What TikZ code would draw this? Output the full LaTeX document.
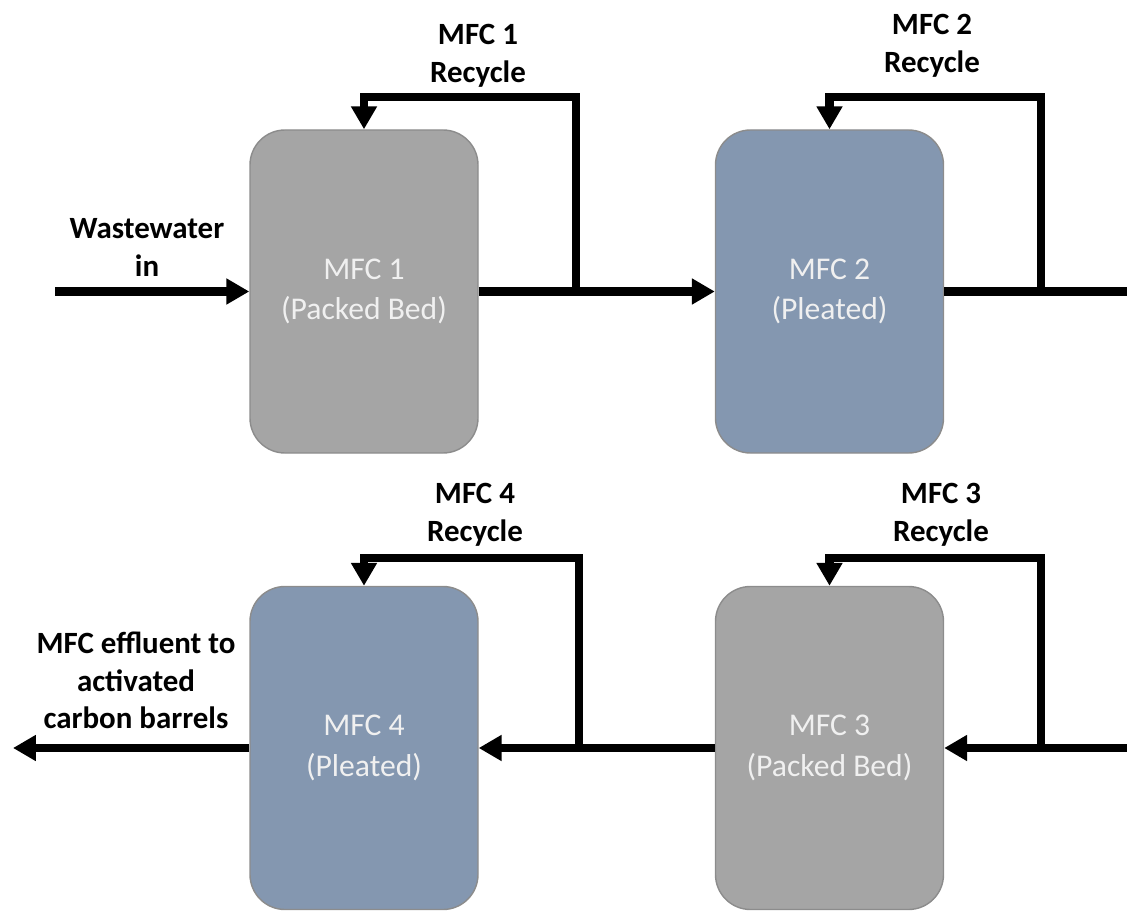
\documentclass[tikz,border=0pt]{standalone}
\usepackage{fontspec}
\setmainfont{Carlito}
\usetikzlibrary{positioning}
\usetikzlibrary{arrows.meta}

\definecolor{bedgray}{HTML}{A5A5A5}
\definecolor{pleatblue}{HTML}{8497B0}
\definecolor{edgegray}{HTML}{8C8C8C}

\tikzset{
    mfc/.style={draw=edgegray, line width=0.8pt, rounded corners=0.7cm,
        minimum width=4.56cm, minimum height=6.46cm, inner sep=0pt,
        align=center, text=white!94!black,
        font=\fontsize{18}{23}\selectfont},
    packed/.style={mfc, fill=bedgray},
    pleated/.style={mfc, fill=pleatblue},
    pipe/.style={line width=4.6pt},
    flow/.style={pipe, -{Triangle[length=13pt,width=14pt]}},
    lbl/.style={align=center, font=\fontsize{17.6}{21.5}\selectfont\bfseries},
}

\begin{document}
\begin{tikzpicture}
    \useasboundingbox (0,0) rectangle (22.54,18.2);

    \path (7.28, 12.37) node [packed] (m1) {MFC 1\\(Packed Bed)};
    \path (16.59, 12.37) node [pleated] (m2) {MFC 2\\(Pleated)};
    \path (16.59, 3.24) node [packed] (m3) {MFC 3\\(Packed Bed)};
    \path (7.28, 3.24) node [pleated] (m4) {MFC 4\\(Pleated)};

    \path (1.1, 12.37) coordinate (in);
    \draw [flow] (in) -- (m1.west);
    \path (2.94, 13.25) node [lbl] (win) {Wastewater\\in};

    \draw [flow] (m1.east) -- (m2.west);
    \path (11.52, 12.37) coordinate (j1) (7.28, 16.26) coordinate (t1);
    \draw [flow] (j1) |- (t1) -- (m1.north);
    \path (9.56, 17.08) node [lbl] (r1) {MFC 1\\Recycle};

    \path (22.54, 12.37) coordinate (e2);
    \draw [pipe] (m2.east) -- (e2);
    \path (20.82, 12.37) coordinate (j2) (16.59, 16.26) coordinate (t2);
    \draw [flow] (j2) |- (t2) -- (m2.north);
    \path (18.64, 17.28) node [lbl] (r2) {MFC 2\\Recycle};

    \path (22.54, 3.24) coordinate (e3);
    \draw [flow] (e3) -- (m3.east);
    \path (20.82, 3.24) coordinate (j3) (16.59, 7.04) coordinate (t3);
    \draw [flow] (j3) |- (t3) -- (m3.north);
    \path (18.82, 7.9) node [lbl] (r3) {MFC 3\\Recycle};

    \draw [flow] (m3.west) -- (m4.east);
    \path (11.58, 3.24) coordinate (j4) (7.28, 7.04) coordinate (t4);
    \draw [flow] (j4) |- (t4) -- (m4.north);
    \path (9.5, 7.9) node [lbl] (r4) {MFC 4\\Recycle};

    \path (0.26, 3.24) coordinate (out);
    \draw [flow] (m4.west) -- (out);
    \path (2.72, 4.59) node [lbl] (wout) {MFC effluent to\\activated\\carbon barrels};
\end{tikzpicture}
\end{document}
